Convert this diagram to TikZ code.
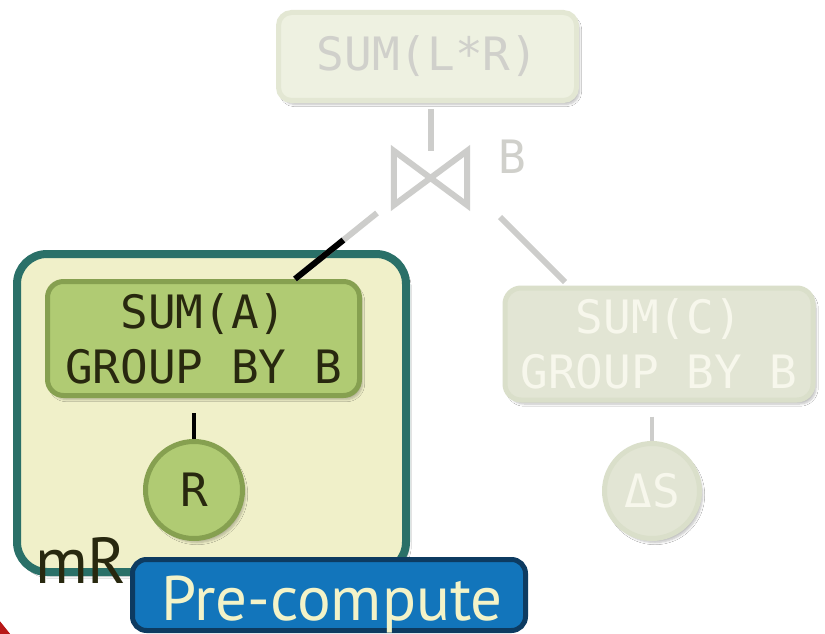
\documentclass[tikz,border=0pt]{standalone}
\usepackage{fontspec}
\setmainfont{DejaVu Sans Mono}
\newfontfamily\tagfont{PT Sans}
\usetikzlibrary{calc,shadows.blur}

\definecolor{fadefill}{HTML}{EEF1E1}
\definecolor{fadeedge}{HTML}{E3E7D3}
\definecolor{fadetext}{HTML}{D0D0CB}
\definecolor{fadeline}{HTML}{CDCDCB}
\definecolor{dimfill}{HTML}{E2E5D4}
\definecolor{dimedge}{HTML}{DADFCA}
\definecolor{dimtext}{HTML}{F7F7EC}
\definecolor{matfill}{HTML}{F0F0C9}
\definecolor{matedge}{HTML}{2A7068}
\definecolor{opfill}{HTML}{B0CB73}
\definecolor{opedge}{HTML}{86A050}
\definecolor{optext}{HTML}{28280F}
\definecolor{tagfill}{HTML}{1275BB}
\definecolor{tagedge}{HTML}{0D3B61}
\definecolor{tagtext}{HTML}{F3F3C8}
\definecolor{arcred}{HTML}{B81818}

\tikzset{
  opfont/.style={font=\fontsize{46}{55}\selectfont},
  softshadow/.style={blur shadow={shadow xshift=3pt, shadow yshift=-4pt, shadow blur steps=6, shadow opacity=25}},
  fadedbox/.style={draw=fadeedge, fill=fadefill, line width=5pt, rounded corners=13pt,
    text=fadetext, opfont, inner sep=0pt, softshadow},
  dimbox/.style={draw=dimedge, fill=dimfill, line width=5pt, rounded corners=16pt,
    text=dimtext, opfont, inner sep=0pt, align=center, softshadow},
  dimleaf/.style={circle, draw=dimedge, fill=dimfill, line width=5pt,
    text=dimtext, opfont, inner sep=0pt, minimum size=95pt, softshadow},
  opbox/.style={draw=opedge, fill=opfill, line width=5pt, rounded corners=16pt,
    text=optext, opfont, inner sep=0pt, align=center, softshadow},
  opleaf/.style={circle, draw=opedge, fill=opfill, line width=5pt,
    text=optext, opfont, inner sep=0pt, minimum size=97pt, softshadow},
  matbox/.style={draw=matedge, fill=matfill, line width=8pt, rounded corners=30pt,
    inner sep=0pt, softshadow},
  tagbox/.style={draw=tagedge, fill=tagfill, line width=5pt, rounded corners=14pt,
    text=tagtext, inner sep=0pt, font=\tagfont\fontsize{63}{75}\selectfont,
    text height=50pt, text depth=0pt},
  fadededge/.style={draw=fadeline, line width=6pt},
  thinfaded/.style={draw=fadeline, line width=4pt},
  opedgeline/.style={draw=black, line width=4.5pt},
}

\begin{document}
\begin{tikzpicture}[x=1pt, y={(0pt,-1pt)}]
\useasboundingbox (0,0) rectangle (825,634);
\clip (0,0) rectangle (825,634);
\fill[white] (0,0) rectangle (825,634);

% red outline entering at the lower left corner
\fill[arcred] (-1,620) .. controls (3,625) and (7,630) .. (11,635) -- (-1,635) -- cycle;

% faded upper part of the plan
\node[fadedbox, minimum width=298pt, minimum height=88pt] (top) at (427.5,56.5) {SUM(L*R)};
\node[minimum width=73pt, minimum height=54pt, inner sep=0pt] (join) at (430.5,178) {};
\draw[fadededge, line join=miter]
  (join.north west) -- (join.south west) -- (join.center) -- cycle
  (join.north east) -- (join.south east) -- (join.center) -- cycle;
\node[text=fadetext, opfont, anchor=base] (joinkey) at (512,173) {B};
\draw[fadededge, shorten <=6pt] (top.south -| join.north) -- (join.north);

% faded right branch
\node[dimbox, minimum width=308pt, minimum height=112pt] (sumC) at (659,344) {SUM(C)\\GROUP BY B};
\node[dimleaf] (dS) at (652,491) {ΔS};
\draw[thinfaded, shorten <=14pt] (sumC.south -| dS.north) -- (dS.north);
\coordinate (jr) at (500,217);
\coordinate (cr) at (565,282);
\draw[fadededge] (jr) -- (cr);

% materialised left branch
\node[matbox, minimum width=389pt, minimum height=318pt] (mR) at (211.5,413) {};
\node[text=optext, anchor=base west, inner sep=0pt, font=\tagfont\fontsize{65}{76}\selectfont] (mRname) at (35,583) {mR};
\node[opbox, minimum width=312pt, minimum height=114pt] (sumA) at (203.5,338.5) {SUM(A)\\GROUP BY B};
\node[opleaf] (R) at (194,490) {R};
\draw[opedgeline, shorten <=15pt] (sumA.south -| R.north) -- (R.north);

\coordinate (jl) at (377,213);
\coordinate (al) at (295,279);
\draw[fadededge] (jl) -- (al);
\draw[draw=black, line width=6pt] ($(jl)!0.41!(al)$) -- (al);

% tag
\node[tagbox, minimum width=393pt, minimum height=71pt] (tag) at (329,595) {\hspace*{6pt}Pre-compute};
\end{tikzpicture}
\end{document}
